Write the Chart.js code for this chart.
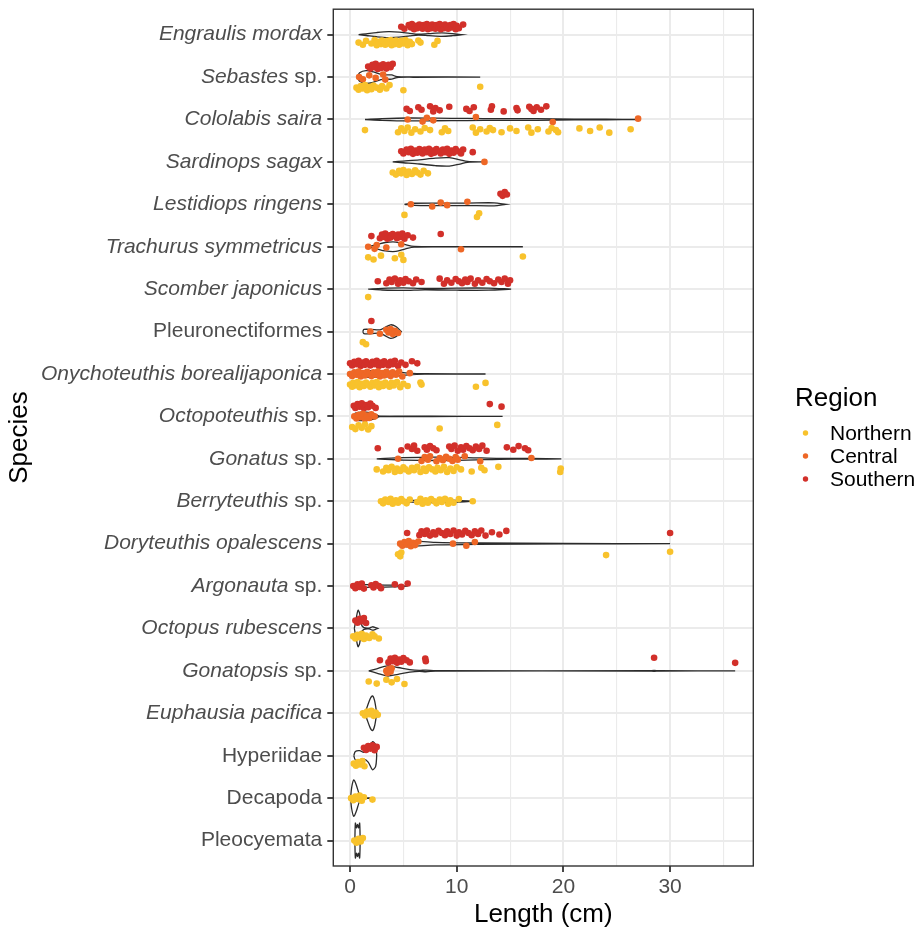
<!DOCTYPE html>
<html>
<head>
<meta charset="utf-8">
<script src="https://cdn.jsdelivr.net/npm/chart.js@4.4.1/dist/chart.umd.min.js"></script>
<style>
  html, body { margin: 0; padding: 0; background: #fff; }
  #wrap { position: relative; width: 914px; height: 929px; }
</style>
</head>
<body>
<div id="wrap"><canvas id="violinChart"></canvas></div>
<script>
// species, top to bottom
const species = [
  'Engraulis mordax', 'Sebastes sp.', 'Cololabis saira', 'Sardinops sagax',
  'Lestidiops ringens', 'Trachurus symmetricus', 'Scomber japonicus',
  'Pleuronectiformes', 'Onychoteuthis borealijaponica', 'Octopoteuthis sp.',
  'Gonatus sp.', 'Berryteuthis sp.', 'Doryteuthis opalescens', 'Argonauta sp.',
  'Octopus rubescens', 'Gonatopsis sp.', 'Euphausia pacifica', 'Hyperiidae',
  'Decapoda', 'Pleocyemata'
];
const plainTaxa = ['Pleuronectiformes', 'Hyperiidae', 'Decapoda', 'Pleocyemata'];
const regionNames = ['Northern', 'Central', 'Southern'];

// lengths (cm) per species, one list per region
const northernLengths = [
  [0.8, 1.2, 1.5, 2.0, 2.3, 2.5, 2.7, 2.9, 3.0, 3.2, 3.3, 3.5, 3.6, 3.8, 3.9, 4.0, 4.2, 4.3, 4.5, 4.6, 4.8, 5.0, 5.2, 5.4, 5.6, 5.8, 6.4, 6.6, 7.9, 8.2],
  [0.6, 0.8, 1.0, 1.2, 1.4, 1.6, 1.8, 2.0, 2.2, 2.5, 2.8, 3.0, 3.4, 3.7, 5.0, 12.2],
  [1.4, 4.5, 4.8, 5.1, 5.4, 5.75, 6.1, 6.6, 7.0, 7.5, 8.6, 8.9, 9.2, 11.5, 11.8, 12.2, 12.8, 13.1, 13.4, 14.2, 15.0, 15.6, 16.7, 17.0, 17.6, 18.6, 18.9, 19.3, 19.5, 21.5, 22.5, 23.4, 24.3, 26.3],
  [4.0, 4.3, 4.6, 4.8, 5.0, 5.3, 5.5, 5.8, 6.1, 6.3, 6.6, 6.9, 7.3],
  [5.1, 11.9, 12.1],
  [1.7, 2.2, 2.9, 4.2, 4.8, 5.0, 16.2],
  [1.7],
  [1.2, 1.5],
  [0.0, 0.2, 0.3, 0.5, 0.7, 0.9, 1.1, 1.3, 1.5, 1.7, 1.9, 2.1, 2.3, 2.5, 2.7, 2.9, 3.1, 3.3, 3.5, 3.7, 3.9, 4.1, 4.4, 4.7, 5.0, 5.4, 6.6, 6.7, 11.8, 12.7],
  [0.2, 0.5, 0.8, 1.1, 1.4, 1.7, 2.0, 8.4, 13.8],
  [2.5, 3.1, 3.4, 3.6, 3.9, 4.2, 4.4, 4.7, 5.0, 5.2, 5.5, 5.8, 6.0, 6.3, 6.6, 6.9, 7.1, 7.4, 7.7, 8.0, 8.2, 8.5, 8.8, 9.1, 9.4, 9.7, 10.0, 10.4, 11.4, 12.3, 12.6, 13.9, 19.7, 19.75],
  [2.9, 3.1, 3.3, 3.6, 3.8, 4.0, 4.3, 4.5, 4.8, 5.0, 5.3, 5.6, 6.3, 6.6, 6.8, 7.1, 7.3, 7.6, 7.9, 8.1, 8.4, 8.6, 8.9, 9.2, 9.4, 9.7, 10.2, 11.5],
  [4.5, 4.7, 4.8, 24.0, 30.0],
  [],
  [0.3, 0.5, 0.7, 0.9, 1.1, 1.3, 1.5, 1.8, 2.1, 2.3, 2.7],
  [1.75, 2.5, 3.4, 3.9, 4.4, 5.1],
  [1.2, 1.4, 1.6, 1.8, 2.0, 2.2, 2.4, 2.6],
  [0.35, 0.55, 0.75, 0.95, 1.15, 1.35],
  [0.1, 0.3, 0.5, 0.7, 0.9, 1.1, 1.3, 2.1],
  [0.4, 0.6, 0.8, 1.0, 1.2]
];
const centralLengths = [
  [],
  [0.85, 1.2, 1.8, 2.4, 3.1, 3.3],
  [5.4, 6.8, 7.2, 7.8, 11.8, 19.0, 27.0],
  [12.6],
  [5.7, 7.7, 8.5, 9.1, 11.0],
  [1.7, 2.3, 2.5, 3.4, 4.8, 10.4],
  [],
  [1.9, 2.8, 3.4, 3.6, 3.8, 4.0, 4.2, 4.5],
  [0.0, 0.2, 0.4, 0.6, 0.8, 1.0, 1.2, 1.4, 1.6, 1.8, 2.0, 2.2, 2.4, 2.6, 2.8, 3.0, 3.2, 3.4, 3.6, 3.8, 4.0, 4.3, 4.6, 4.9, 5.6],
  [0.4, 0.6, 0.8, 1.0, 1.2, 1.4, 1.6, 1.8, 2.0, 2.3],
  [4.5, 6.7, 7.0, 7.3, 7.5, 8.1, 8.4, 8.7, 9.0, 9.3, 9.6, 9.9, 10.1, 10.75, 12.2, 17.0],
  [],
  [4.7, 4.9, 5.1, 5.3, 5.5, 5.7, 5.9, 6.1, 6.4, 9.65, 10.9, 11.7],
  [],
  [],
  [3.4, 3.5, 3.6, 3.8, 3.9],
  [], [], [], []
];
const southernLengths = [
  [4.8, 5.1, 5.5, 5.7, 5.8, 6.0, 6.2, 6.3, 6.5, 6.6, 6.8, 6.9, 7.1, 7.2, 7.3, 7.5, 7.6, 7.7, 7.9, 8.0, 8.1, 8.3, 8.4, 8.5, 8.7, 8.8, 8.9, 9.1, 9.2, 9.4, 9.5, 9.7, 9.9, 10.0, 10.2, 10.6],
  [1.7, 1.9, 2.1, 2.3, 2.4, 2.6, 2.8, 2.9, 3.1, 3.2, 3.4, 3.6, 3.8, 4.0],
  [5.3, 5.6, 6.4, 6.7, 7.5, 7.8, 8.0, 8.4, 9.3, 10.9, 11.2, 11.6, 13.2, 13.3, 14.4, 15.6, 15.7, 16.8, 17.0, 17.2, 17.5, 17.9, 18.4],
  [4.8, 5.0, 5.3, 5.5, 5.7, 5.9, 6.1, 6.3, 6.5, 6.7, 6.8, 7.0, 7.2, 7.4, 7.6, 7.8, 7.9, 8.1, 8.3, 8.5, 8.7, 8.9, 9.1, 9.3, 9.5, 9.7, 9.9, 10.1, 10.4, 10.6, 11.5],
  [14.1, 14.3, 14.5, 14.7],
  [2.0, 2.8, 3.0, 3.2, 3.3, 3.5, 3.7, 3.8, 4.0, 4.2, 4.4, 4.5, 4.7, 4.9, 5.1, 5.4, 5.9, 8.5],
  [2.6, 3.4, 3.7, 3.9, 4.2, 4.5, 4.7, 5.0, 5.2, 5.5, 5.9, 6.2, 6.7, 8.4, 8.8, 9.1, 9.5, 9.9, 10.2, 10.5, 10.8, 11.0, 11.3, 11.7, 12.0, 12.4, 12.8, 13.1, 13.5, 13.9, 14.2, 14.5, 14.8, 15.0],
  [2.0],
  [0.0, 0.2, 0.4, 0.6, 0.8, 1.0, 1.2, 1.4, 1.5, 1.7, 1.9, 2.1, 2.3, 2.5, 2.7, 2.9, 3.1, 3.2, 3.4, 3.6, 3.8, 4.0, 4.2, 4.5, 4.8, 5.2, 5.8, 6.3],
  [0.35, 0.5, 0.7, 0.9, 1.1, 1.3, 1.5, 1.7, 1.9, 2.1, 2.4, 13.1, 14.2],
  [2.6, 4.8, 5.4, 5.8, 6.0, 6.3, 7.0, 7.2, 7.5, 7.8, 8.1, 9.3, 9.5, 9.8, 10.1, 10.4, 10.6, 10.9, 11.2, 11.5, 11.8, 12.1, 12.4, 12.8, 14.7, 15.3, 15.8, 16.4, 16.7],
  [],
  [5.35, 6.5, 6.7, 7.0, 7.2, 7.5, 7.8, 8.0, 8.3, 8.6, 8.9, 9.1, 9.4, 9.7, 10.0, 10.2, 10.5, 10.8, 11.1, 11.4, 11.7, 12.0, 12.3, 12.7, 13.3, 14.0, 14.65, 30.0],
  [0.3, 0.5, 0.7, 0.9, 1.1, 1.3, 2.0, 2.2, 2.4, 2.7, 2.9, 4.2, 4.8, 5.4],
  [0.5, 0.7, 0.9, 1.1, 1.3, 1.5],
  [2.8, 3.6, 3.8, 4.0, 4.2, 4.4, 4.6, 4.8, 5.0, 5.3, 5.6, 7.05, 7.1, 28.5, 36.1],
  [],
  [1.3, 1.5, 1.7, 1.9, 2.1, 2.3, 2.5],
  [],
  []
];

// violin outlines: [length, half width (in category units)]
const violinProfiles = [
  [[0.8, 0], [1.5, 0.02], [2.5, 0.05], [3.6, 0.07], [4.6, 0.06], [5.6, 0.03], [6.4, 0.01], [7.4, 0.025], [8.6, 0.04], [9.6, 0.025], [10.5, 0]],
  [[0.7, 0], [0.9, 0.1], [1.5, 0.15], [2.2, 0.12], [2.9, 0.06], [3.4, 0.05], [3.9, 0.05], [4.4, 0.01], [6, 0.004], [12.2, 0]],
  [[1.4, 0], [3, 0.02], [5.5, 0.035], [8, 0.03], [11, 0.025], [14, 0.02], [17.5, 0.02], [21, 0.01], [24, 0.006], [27, 0]],
  [[4.0, 0], [5, 0.02], [6.5, 0.05], [8, 0.09], [9.3, 0.1], [10.3, 0.05], [11, 0.01], [12.6, 0]],
  [[5.1, 0], [6, 0.025], [8, 0.03], [11, 0.03], [13.5, 0.035], [14.6, 0]],
  [[1.7, 0], [2.5, 0.05], [3.3, 0.1], [4.3, 0.11], [5.2, 0.05], [6, 0.01], [9, 0.004], [16.2, 0]],
  [[1.7, 0], [3, 0.02], [5, 0.03], [7, 0.015], [10, 0.025], [13, 0.025], [15.1, 0]],
  [[1.2, 0], [1.3, 0.05], [2.0, 0.05], [2.8, 0.04], [3.3, 0.1], [3.8, 0.16], [4.3, 0.12], [4.8, 0]],
  [[0, 0], [0.3, 0.05], [2, 0.08], [4, 0.06], [5.5, 0.02], [7, 0.005], [12.7, 0]],
  [[0.3, 0], [0.5, 0.08], [1.5, 0.1], [2.3, 0.06], [2.8, 0.005], [14.3, 0]],
  [[2.5, 0], [5, 0.03], [8, 0.04], [11, 0.03], [14, 0.01], [17, 0.008], [19.8, 0]],
  [[2.9, 0], [4, 0.03], [6, 0.02], [8, 0.03], [10, 0.02], [11.5, 0]],
  [[4.65, 0], [5.2, 0.07], [6.2, 0.06], [8, 0.03], [12, 0.015], [20, 0.005], [30, 0]],
  [[0.3, 0], [1, 0.03], [2.5, 0.03], [4, 0.02], [5.4, 0]],
  [[0.4, 0], [0.55, 0.2], [0.75, 0.43], [0.9, 0.35], [1.05, 0.1], [1.3, 0.02], [1.8, 0.01], [2.1, 0.04], [2.4, 0.02], [2.6, 0]],
  [[1.75, 0], [2.5, 0.05], [3.5, 0.12], [4.5, 0.08], [5.6, 0.03], [6.5, 0.01], [7.1, 0.02], [8, 0.003], [28, 0.003], [28.5, 0.01], [29, 0.003], [36.1, 0]],
  [[1.4, 0], [1.6, 0.15], [1.9, 0.35], [2.1, 0.41], [2.3, 0.3], [2.5, 0]],
  [[0.35, 0], [0.5, 0.1], [0.9, 0.12], [1.3, 0.08], [1.7, 0.15], [2.1, 0.33], [2.4, 0.25], [2.5, 0]],
  [[0.05, 0], [0.15, 0.25], [0.35, 0.43], [0.6, 0.3], [0.9, 0.08], [1.3, 0.02], [1.8, 0.005], [2.1, 0]],
  [[0.45, 0], [0.5, 0.41], [0.6, 0.3], [0.7, 0.38], [0.8, 0.3], [0.9, 0.41], [0.95, 0]]
];

const xTicks = [0, 5, 10, 15, 20, 25, 30, 35];

// ---- styling / layout ----
const FONT = "'Liberation Sans', Arial, Helvetica, sans-serif";
const TICK_SIZE = 21;
const regionColors = ['#F8C22C', '#EE6726', '#D2302A'];
const regionLengths = [northernLengths, centralLengths, southernLengths];
const dodgeWidth = 0.75;
const jitter = [0, 0.05, -0.04, 0.02, -0.06, 0.06, -0.02, 0.035, -0.05];

function pointsFor(r) {
  const out = [];
  species.forEach((_, i) => {
    const present = regionLengths.map((l, k) => l[i].length ? k : -1).filter(k => k >= 0);
    const j = present.indexOf(r);
    if (j < 0) return;
    const n = present.length;
    const off = dodgeWidth / 2 - (j + 0.5) / n * dodgeWidth;
    regionLengths[r][i].forEach((len, k) => {
      out.push({ x: len, y: i + (n > 1 ? off : 0) + jitter[k % jitter.length] });
    });
  });
  return out;
}

function violinOutline(i) {
  const p = violinProfiles[i];
  const top = p.map(([x, h]) => ({ x, y: i - h }));
  const bottom = p.slice().reverse().map(([x, h]) => ({ x, y: i + h }));
  return top.concat(bottom);
}

const datasets = [];
regionNames.forEach((name, r) => {
  datasets.push({
    label: name,
    data: pointsFor(r),
    backgroundColor: regionColors[r],
    borderWidth: 0,
    pointRadius: 3.3,
    order: 1
  });
});
species.forEach((name, i) => {
  datasets.push({
    label: name + ' violin',
    data: violinOutline(i),
    showLine: true,
    pointRadius: 0,
    borderColor: '#2b2b2b',
    borderWidth: 1.3,
    tension: 0.3,
    fill: false,
    order: 2
  });
});

const decorations = {
  id: 'decorations',
  afterDraw(chart) {
    const { ctx, chartArea: a } = chart;
    const y = chart.scales.y;
    ctx.save();
    ctx.strokeStyle = '#333333';
    ctx.lineWidth = 1.4;
    ctx.strokeRect(a.left, a.top, a.right - a.left, a.bottom - a.top);

    // species labels (genus in italics)
    ctx.fillStyle = '#4D4D4D';
    ctx.textBaseline = 'middle';
    ctx.textAlign = 'right';
    const xr = a.left - 11;
    species.forEach((name, i) => {
      const yy = y.getPixelForValue(i);
      let ital = name, plain = '';
      if (plainTaxa.includes(name)) { ital = ''; plain = name; }
      else if (name.endsWith(' sp.')) { ital = name.slice(0, -4); plain = ' sp.'; }
      ctx.font = TICK_SIZE + 'px ' + FONT;
      const pw = plain ? ctx.measureText(plain).width : 0;
      if (plain) ctx.fillText(plain, xr, yy);
      if (ital) {
        ctx.font = 'italic ' + TICK_SIZE + 'px ' + FONT;
        ctx.fillText(ital, xr - pw, yy);
      }
    });

    // axis titles
    ctx.fillStyle = '#000';
    ctx.font = '26px ' + FONT;
    ctx.textAlign = 'center';
    ctx.textBaseline = 'alphabetic';
    ctx.fillText('Length (cm)', (a.left + a.right) / 2, 922);
    ctx.save();
    ctx.translate(27, (a.top + a.bottom) / 2);
    ctx.rotate(-Math.PI / 2);
    ctx.fillText('Species', 0, 0);
    ctx.restore();

    // legend
    ctx.textAlign = 'left';
    ctx.fillText('Region', 795, 406);
    ctx.font = TICK_SIZE + 'px ' + FONT;
    ctx.textBaseline = 'middle';
    const ly = [434, 457, 480];
    regionNames.forEach((name, r) => {
      ctx.fillStyle = regionColors[r];
      ctx.beginPath();
      ctx.arc(805.5, ly[r] - 1, 2.7, 0, Math.PI * 2);
      ctx.fill();
      ctx.fillStyle = '#000';
      ctx.fillText(name, 830, ly[r]);
    });
    ctx.restore();
  }
};

new Chart(document.getElementById('violinChart'), {
  type: 'scatter',
  data: { datasets },
  plugins: [decorations],
  options: {
    responsive: true,
    maintainAspectRatio: false,
    animation: false,
    events: [],
    layout: { padding: { top: 9.2, right: 160.7, bottom: 0, left: 0 } },
    plugins: { legend: { display: false }, tooltip: { enabled: false } },
    scales: {
      x: {
        type: 'linear',
        min: -1.57,
        max: 37.8,
        afterBuildTicks: s => { s.ticks = xTicks.map(v => ({ value: v })); },
        afterFit: s => { s.height = 63; },
        border: { display: false },
        grid: {
          color: '#EBEBEB',
          lineWidth: c => (c.tick && c.tick.value % 10 === 0 ? 2 : 1.1),
          tickColor: c => (c.tick && c.tick.value % 10 === 0 ? '#333333' : 'rgba(0,0,0,0)'),
          tickLength: 6,
          tickWidth: 1.8
        },
        ticks: {
          autoSkip: false,
          maxRotation: 0,
          padding: 3,
          color: '#4D4D4D',
          font: { family: FONT, size: TICK_SIZE },
          callback: v => (v % 10 === 0 ? String(v) : '')
        }
      },
      y: {
        type: 'linear',
        reverse: true,
        min: -0.6,
        max: 19.6,
        afterBuildTicks: s => { s.ticks = species.map((_, i) => ({ value: i })); },
        afterFit: s => { s.width = 333.3; },
        border: { display: false },
        grid: {
          color: '#EBEBEB',
          lineWidth: 2,
          tickColor: '#333333',
          tickLength: 6,
          tickWidth: 1.8
        },
        ticks: { display: false }
      }
    }
  }
});
</script>
</body>
</html>
